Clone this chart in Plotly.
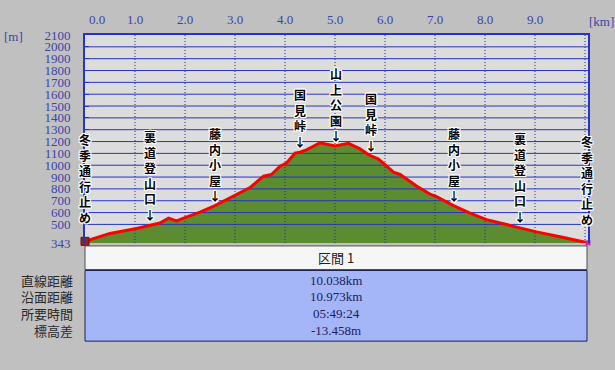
import numpy as np
import plotly.graph_objects as go

# ---------------- data ----------------
dist_km = [0.0, 0.5, 1.03, 1.3, 1.5, 1.67, 1.83, 2.0, 2.3, 2.6, 3.0, 3.3, 3.57, 3.73,
           3.9, 4.03, 4.2, 4.3, 4.43, 4.7, 5.0, 5.27, 5.5, 5.67, 5.87, 6.17, 6.3,
           6.63, 6.9, 7.03, 7.37, 7.7, 8.03, 8.43, 8.7, 9.03, 9.5, 9.97, 10.06]
elev_m = [357, 424, 465, 493, 512, 553, 529, 557, 603, 659, 742, 811, 908, 922,
          991, 1019, 1102, 1110, 1130, 1190, 1163, 1185, 1138, 1088, 1052, 941, 922,
          825, 756, 734, 659, 595, 540, 499, 474, 437, 396, 354, 344]

place_names = ["冬季通行止め", "裏道登山口", "藤内小屋", "国見峠", "山上公園",
               "国見峠", "藤内小屋", "裏道登山口", "冬季通行止め"]
place_km = [0.0, 1.3, 2.6, 4.3, 5.02, 5.71, 7.37, 8.7, 10.04]
place_arrow = [False, True, True, True, True, True, True, True, False]

x_ticks = [0, 1, 2, 3, 4, 5, 6, 7, 8, 9]
x_ticklabels = ["0.0", "1.0", "2.0", "3.0", "4.0", "5.0", "6.0", "7.0", "8.0", "9.0"]
x_grid = [1, 2, 3, 4, 5, 6, 7, 8, 9, 10]
y_ticks = [343] + list(range(500, 2101, 100))
y_ticklabels = [str(v) for v in y_ticks]
y_grid = list(range(500, 2001, 100))

table_header = "区間 1"
row_labels = ["直線距離", "沿面距離", "所要時間", "標高差"]
row_values = ["10.038km", "10.973km", "05:49:24", "-13.458m"]

# ---------------- layout constants ----------------
W, H = 615, 370
ML, MR, MT, MB = 85, 27, 31, 127
PW, PH = W - ML - MR, H - MT - MB
X_MAX = 10.06
Y_MIN, Y_MAX = 343, 2100

def px(xp):
    return (xp - ML) / PW

def py(yp):
    return (H - MB - yp) / PH

BLUE = "#2634C4"
TICKFONT = dict(family="Liberation Serif", size=13, color="#3C44A8")

fig = go.Figure()

# area fill
fig.add_trace(go.Scatter(x=dist_km, y=elev_m, mode="lines", fill="tozeroy",
                         fillcolor="#5B8C2F", line=dict(width=0, color="#5B8C2F"),
                         hoverinfo="skip", showlegend=False))

# grid lines drawn above the fill
gx, gy = [], []
for v in y_grid:
    gx += [0, X_MAX, None]
    gy += [v, v, None]
fig.add_trace(go.Scatter(x=gx, y=gy, mode="lines", line=dict(color=BLUE, width=1),
                         hoverinfo="skip", showlegend=False))
vx, vy = [], []
for v in x_grid:
    vx += [v, v, None]
    vy += [Y_MIN, Y_MAX, None]
fig.add_trace(go.Scatter(x=vx, y=vy, mode="lines",
                         line=dict(color="#2030A0", width=1, dash="1px,2px"),
                         hoverinfo="skip", showlegend=False))

# profile line
fig.add_trace(go.Scatter(x=dist_km, y=elev_m, mode="lines",
                         line=dict(color="#FF0000", width=3),
                         hoverinfo="skip", showlegend=False, cliponaxis=False))

# start / end markers
fig.add_trace(go.Scatter(x=[dist_km[0]], y=[elev_m[0]], mode="markers",
                         marker=dict(symbol="square", size=8, color="#9A2020",
                                     line=dict(color="#402020", width=1)),
                         hoverinfo="skip", showlegend=False, cliponaxis=False))
fig.add_trace(go.Scatter(x=[dist_km[-1]], y=[elev_m[-1]], mode="markers",
                         marker=dict(symbol="square", size=5, color="#D020B0"),
                         hoverinfo="skip", showlegend=False, cliponaxis=False))

annotations = []
# place labels (vertical text)
shadow = ("1px 1px 0 #fff, -1px -1px 0 #fff, 1px -1px 0 #fff, -1px 1px 0 #fff, "
          "0 1px 0 #fff, 0 -1px 0 #fff, 1px 0 0 #fff, -1px 0 0 #fff")
for name, k, arr in zip(place_names, place_km, place_arrow):
    chars = list(name) + (["↓"] if arr else [])
    yv = float(np.interp(k, dist_km, elev_m))
    annotations.append(dict(
        x=k, y=yv, xref="x", yref="y", text="<br>".join(chars), showarrow=False,
        xanchor="center", yanchor="bottom", yshift=(0 if arr else 13),
        font=dict(family="Noto Sans CJK JP", size=12, color="#000000",
                  weight="bold", shadow=shadow),
    ))

# first top tick label (offset from the edge)
annotations.append(dict(x=x_ticks[0], y=1, xref="x", yref="paper", text=x_ticklabels[0],
                        showarrow=False, xanchor="center", yanchor="bottom",
                        xshift=12, yshift=6, font=TICKFONT))
# unit labels
annotations.append(dict(x=px(601), y=py(17), xref="paper", yref="paper", text="[km]",
                        showarrow=False, xanchor="center", yanchor="middle", font=TICKFONT))
annotations.append(dict(x=px(13), y=py(33), xref="paper", yref="paper", text="[m]",
                        showarrow=False, xanchor="center", yanchor="middle", font=TICKFONT))

# table
shapes = [
    dict(type="rect", xref="paper", yref="paper", x0=px(85), x1=px(587), y0=py(246), y1=py(270),
         fillcolor="#F6F6F6", line=dict(color="#505050", width=1), layer="above"),
    dict(type="rect", xref="paper", yref="paper", x0=px(85), x1=px(587), y0=py(271), y1=py(343),
         fillcolor="#A4B6F8", line=dict(color="#1C2050", width=1), layer="above"),
]
annotations.append(dict(x=px(336), y=py(258), xref="paper", yref="paper", text=table_header,
                        showarrow=False, xanchor="center", yanchor="middle",
                        font=dict(family="Noto Sans CJK JP", size=13, color="#202020")))
for i, (lab, val) in enumerate(zip(row_labels, row_values)):
    yc = 281 + 17 * i
    annotations.append(dict(x=px(75), y=py(yc), xref="paper", yref="paper", text=lab,
                            showarrow=False, xanchor="right", yanchor="middle",
                            font=dict(family="Noto Sans CJK JP", size=13, color="#2A2A2A")))
    annotations.append(dict(x=px(336), y=py(yc), xref="paper", yref="paper", text=val,
                            showarrow=False, xanchor="center", yanchor="middle",
                            font=dict(family="Liberation Serif", size=13, color="#1C2060")))

fig.update_layout(
    width=W, height=H,
    margin=dict(l=ML, r=MR, t=MT, b=MB, pad=0),
    paper_bgcolor="#C0C0C0", plot_bgcolor="#DCDCDC",
    showlegend=False,
    xaxis=dict(range=[0, X_MAX], side="top", showgrid=False, zeroline=False,
               tickvals=x_ticks[1:], ticktext=x_ticklabels[1:], ticks="",
               ticklabelstandoff=4, tickfont=TICKFONT,
               showline=True, linecolor=BLUE, linewidth=2, mirror=False, fixedrange=True),
    yaxis=dict(range=[Y_MIN, Y_MAX], showgrid=False, zeroline=False,
               tickvals=y_ticks, ticktext=y_ticklabels, ticks="inside", ticklen=4,
               tickcolor=BLUE, ticklabelstandoff=10, tickfont=TICKFONT,
               showline=True, linecolor=BLUE, linewidth=2, mirror=True, fixedrange=True),
    annotations=annotations,
    shapes=shapes,
)

fig.write_html(
    "out.html",
    config={"displayModeBar": False},
    post_script="document.body.style.margin='0';document.body.style.background='#C0C0C0';",
)
